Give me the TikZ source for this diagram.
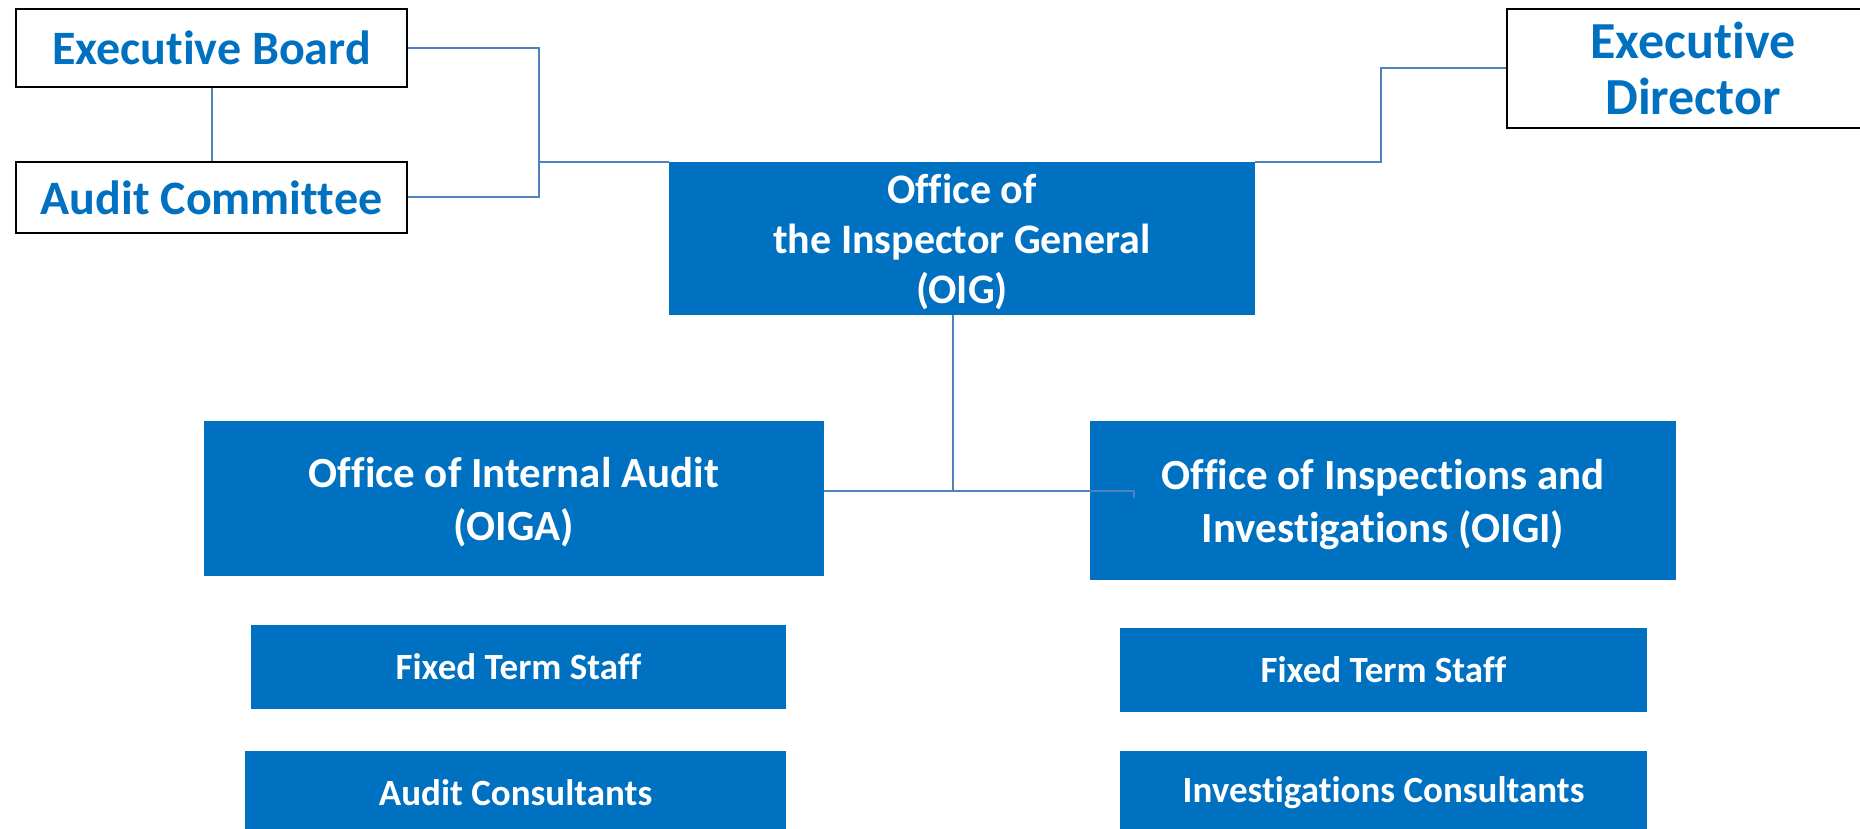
\documentclass[tikz,border=0pt]{standalone}
\usepackage{fontspec}
\setmainfont{Carlito}[Ligatures=NoCommon]
\usetikzlibrary{positioning}
\definecolor{oigblue}{HTML}{0070C0}
\definecolor{linkblue}{HTML}{4F81BD}

\begin{document}
\begin{tikzpicture}[x=1pt, y=-1pt,
  topbox/.style={draw=black, line width=2pt, fill=white, text=oigblue, align=center, inner sep=0pt},
  bluebox/.style={fill=oigblue, text=white, align=center, inner sep=0pt},
  fs/.style 2 args={font=\fontsize{#1}{#2}\selectfont\bfseries},
  link/.style={draw=linkblue, line width=2pt}]
  % 画布范围（按像素取 1pt）
  \useasboundingbox (0,0) rectangle (1860,829);

  % 1. 上层白框：执行局、审计委员会、执行主任
  \node[topbox, fs={48}{56}, minimum width=391, minimum height=78] (EB) at (211.5,48) {Executive Board};
  \node[topbox, fs={48}{56}, minimum width=391, minimum height=71] (AC) at (211.5,197.5) {Audit Committee};
  \node[topbox, fs={52}{56}, minimum width=372, minimum height=119] (ED) at (1693,68.5) {Executive\\Director};

  % 2. 中间蓝框：监察长办公室
  \node[bluebox, fs={42}{50}, text depth=0pt, minimum width=586, minimum height=153] (OIG) at (962,238.5) {Office of\\the Inspector General\\(OIG)};

  % 3. 下层两个办公室
  \node[bluebox, fs={43}{53}, text depth=0pt, minimum width=620, minimum height=155] (OIGA) at (514,498.5) {Office of Internal Audit\\(OIGA)};
  \node[bluebox, fs={43}{53}, text depth=0pt, minimum width=586, minimum height=159] (OIGI) at (1383,500.5) {Office of Inspections and\\Investigations (OIGI)};

  % 4. 人员小框
  \node[bluebox, fs={37}{44}, minimum width=535, minimum height=84] (FTSA) at (518.5,667) {Fixed Term Staff};
  \node[bluebox, fs={37}{44}, minimum width=541, minimum height=84] (ACons) at (515.5,793) {Audit Consultants};
  \node[bluebox, fs={37}{44}, minimum width=527, minimum height=84] (FTSI) at (1383.5,670) {Fixed Term Staff};
  \node[bluebox, fs={37}{44}, minimum width=527, minimum height=84] (ICons) at (1383.5,793) {Investigations Consultants};

  % 5. 连线
  \draw[link] (EB) -- (AC);
  \draw[link] (EB.east) -- ++(131,0) coordinate (J) |- (AC.east);
  \draw[link] (J |- OIG.north west) -- (OIG.north west);
  \draw[link] (OIG.north east) -- ++(126,0) |- (ED.west);

  \draw[link] ([xshift=-9pt]OIG.south) -- ++(0,176) coordinate (T);
  \draw[link] (T) -- (T -| OIGA.east);
  \draw[link] (T) -- (T -| OIGI.west) -- ++(44,0) -- ++(0,7);

\end{tikzpicture}
\end{document}
